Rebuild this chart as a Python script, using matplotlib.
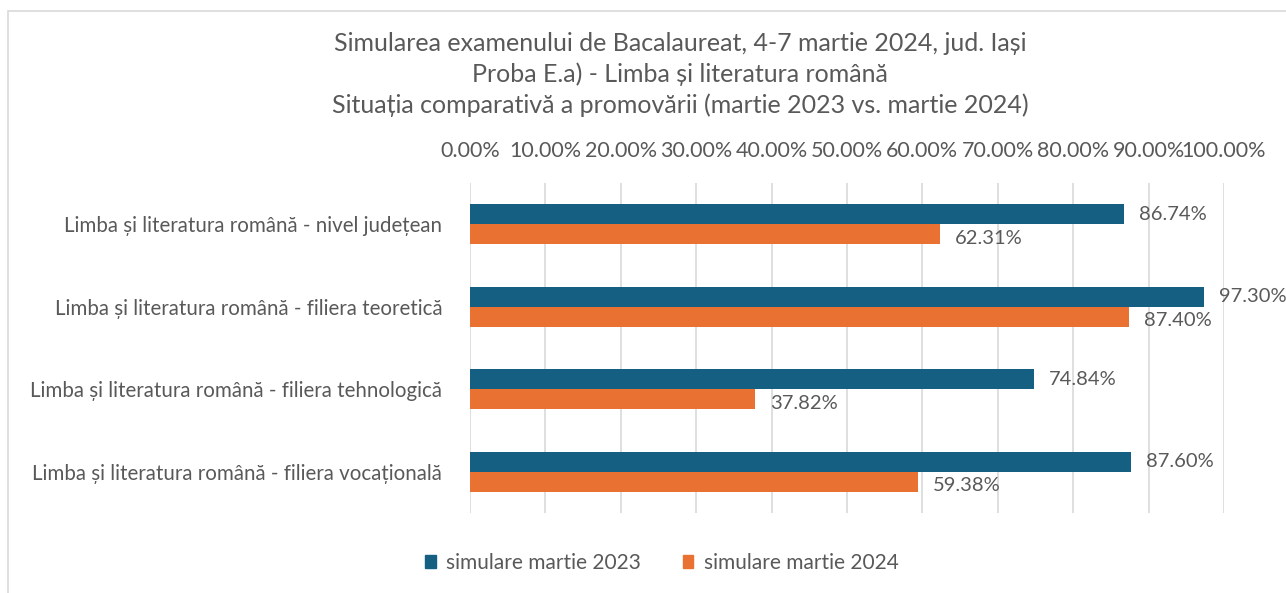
import numpy as np
import matplotlib.pyplot as plt
from matplotlib.patches import Rectangle, Patch
from matplotlib.ticker import FuncFormatter

plt.rcParams['font.family'] = ['Lato', 'DejaVu Sans']

categories = ['Limba și literatura română - nivel județean',
              'Limba și literatura română - filiera teoretică',
              'Limba și literatura română - filiera tehnologică',
              'Limba și literatura română - filiera vocațională']
val_2023 = [86.74, 97.30, 74.84, 87.60]
val_2024 = [62.31, 87.40, 37.82, 59.38]
series = ['simulare martie 2023', 'simulare martie 2024']

blue = '#156082'
orange = '#e97132'
gray = '#595959'

fig = plt.figure(figsize=(12.86, 5.93), dpi=100)
fig.patches.append(Rectangle((8/1286, -0.1), 1.2, 1 - 11/593 + 0.1, transform=fig.transFigure,
                             fill=False, edgecolor='#d9d9d9', linewidth=1.2))
ax = fig.add_axes([470/1286, 1 - 513/593, (1224-470)/1286, (513-183)/593])

y = np.arange(len(categories))
h = 0.245
ax.barh(y - h/2, val_2023, height=h, color=blue, zorder=3)
ax.barh(y + h/2, val_2024, height=h, color=orange, zorder=3)
for i in range(len(categories)):
    ax.text(val_2023[i] + 2.0, y[i] - h/2, f'{val_2023[i]:.2f}%', va='center', ha='left',
            fontsize=14.5, color=gray)
    ax.text(val_2024[i] + 2.0, y[i] + h/2 + 0.05, f'{val_2024[i]:.2f}%', va='center', ha='left',
            fontsize=14.5, color=gray)

ax.set_xlim(0, 100)
ax.set_ylim(3.5, -0.5)
ax.set_xticks(np.arange(0, 101, 10))
ax.xaxis.set_major_formatter(FuncFormatter(lambda v, p: f'{v:.2f}%'))
ax.xaxis.tick_top()
ax.tick_params(axis='x', length=0, pad=16, labelsize=15.5, labelcolor=gray)
ax.set_yticks(y)
ax.set_yticklabels(categories)
ax.tick_params(axis='y', length=0, pad=20, labelsize=14.8, labelcolor=gray)
ax.grid(axis='x', color='#d9d9d9', linewidth=1.2, zorder=0)
for s in ax.spines.values():
    s.set_visible(False)

fig.text(680/1286, 1 - 32/593,
         'Simularea examenului de Bacalaureat, 4-7 martie 2024, jud. Iași\n'
         'Proba E.a) - Limba și literatura română\n'
         'Situația comparativă a promovării (martie 2023 vs. martie 2024)',
         ha='center', va='top', fontsize=18, color=gray, linespacing=1.37)

handles = [Patch(color=blue), Patch(color=orange)]
fig.legend(handles, series, loc='center', bbox_to_anchor=(662/1286, 1 - 563/593), ncol=2,
           frameon=False, fontsize=15, labelcolor=gray, handlelength=0.5, handleheight=0.6,
           handletextpad=0.5, columnspacing=2.0)

fig.savefig('out.png', dpi=100)
